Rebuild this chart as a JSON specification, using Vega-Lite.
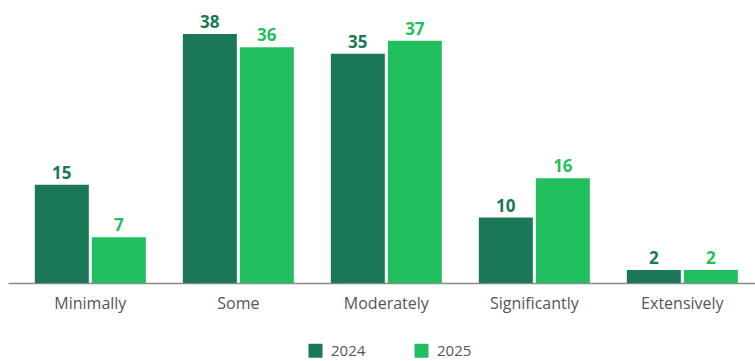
{
  "$schema": "https://vega.github.io/schema/vega-lite/v6.json",
  "width": 747,
  "height": 262,
  "autosize": {"type": "none"},
  "padding": {"left": 8, "top": 21, "right": 0, "bottom": 78},
  "background": "white",
  "config": {"view": {"stroke": null}, "font": "Open Sans"},
  "data": {
    "values": [
      {"category": "Minimally", "year": "2024", "value": 15},
      {"category": "Minimally", "year": "2025", "value": 7},
      {"category": "Some", "year": "2024", "value": 38},
      {"category": "Some", "year": "2025", "value": 36},
      {"category": "Moderately", "year": "2024", "value": 35},
      {"category": "Moderately", "year": "2025", "value": 37},
      {"category": "Significantly", "year": "2024", "value": 10},
      {"category": "Significantly", "year": "2025", "value": 16},
      {"category": "Extensively", "year": "2024", "value": 2},
      {"category": "Extensively", "year": "2025", "value": 2}
    ]
  },
  "encoding": {
    "x": {
      "field": "category",
      "type": "nominal",
      "sort": ["Minimally", "Some", "Moderately", "Significantly", "Extensively"],
      "scale": {"paddingInner": 0.25, "paddingOuter": 0.1486, "align": 0.61},
      "axis": {
        "title": null,
        "labelAngle": 0,
        "ticks": false,
        "labelPadding": 12,
        "labelFontSize": 16,
        "labelColor": "#555555",
        "domainColor": "#8a8a8a",
        "domainWidth": 1.5
      }
    },
    "xOffset": {
      "field": "year",
      "type": "nominal",
      "scale": {"paddingInner": 0.053, "paddingOuter": 0}
    },
    "y": {
      "field": "value",
      "type": "quantitative",
      "scale": {"domain": [0, 40], "nice": false},
      "axis": null
    },
    "color": {
      "field": "year",
      "type": "nominal",
      "scale": {"domain": ["2024", "2025"], "range": ["#1a7856", "#22bf5e"]},
      "legend": {
        "title": null,
        "orient": "none",
        "direction": "horizontal",
        "legendX": 300,
        "legendY": 322,
        "symbolType": "square",
        "symbolSize": 196,
        "symbolStrokeWidth": 0,
        "labelFontSize": 15,
        "labelColor": "#555555",
        "labelOffset": 8,
        "columnPadding": 48
      }
    }
  },
  "layer": [
    {"mark": {"type": "bar"}},
    {
      "mark": {"type": "text", "baseline": "alphabetic", "dy": -6, "fontSize": 17, "fontWeight": "bold"},
      "encoding": {"text": {"field": "value", "type": "quantitative"}}
    }
  ]
}
